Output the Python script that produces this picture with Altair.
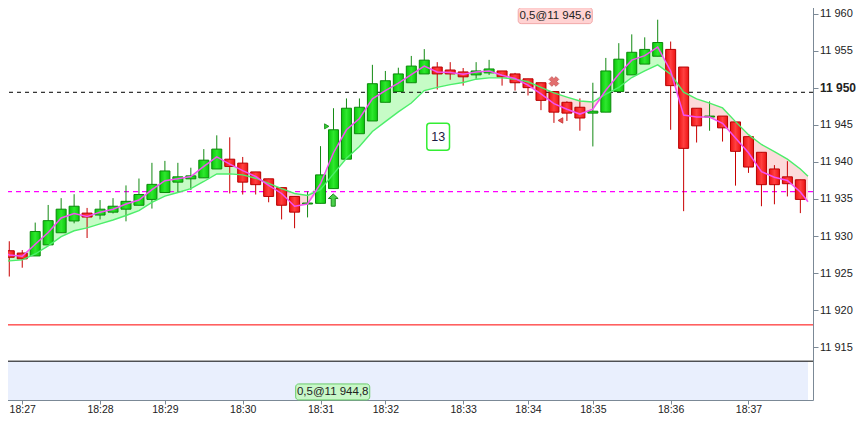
import json
import altair as alt
import pandas as pd

# ---- scale limits (price units / candle index) ----
XMIN, XMAX = -0.33, 61.59
YMIN, YMAX = 11907.86, 11961.32

# ---- candles (index 0..61) ----
opens = [11928.01, 11927.70, 11927.31, 11928.80, 11930.44, 11932.03, 11933.09, 11932.83, 11933.22, 11933.62,
         11934.15, 11934.94, 11935.87, 11937.27, 11937.72, 11937.85, 11939.05, 11940.37, 11939.84, 11938.65,
         11937.72, 11936.53, 11935.34, 11934.32, 11934.41, 11936.40, 11940.37, 11943.81, 11945.53, 11948.05,
         11949.50, 11950.69, 11951.88, 11952.81, 11952.41, 11952.15, 11951.75, 11952.02, 11952.28, 11951.88,
         11951.22, 11950.69, 11949.50, 11948.05, 11947.38, 11946.59, 11946.72, 11949.50, 11951.75, 11953.21,
         11954.27, 11955.19, 11952.81, 11947.25, 11946.06, 11946.19, 11945.40, 11943.41, 11941.30, 11939.05,
         11937.99, 11937.59]
highs = [11929.29, 11928.10, 11931.81, 11934.19, 11935.11, 11935.64, 11933.79, 11934.85, 11935.11, 11936.83,
         11937.76, 11939.88, 11940.14, 11939.88, 11939.22, 11941.73, 11943.59, 11943.32, 11940.67, 11938.65,
         11937.72, 11936.53, 11935.34, 11936.00, 11942.13, 11947.25, 11948.57, 11948.57, 11953.11, 11952.28,
         11952.72, 11954.31, 11955.23, 11953.47, 11953.47, 11952.68, 11953.47, 11953.78, 11952.28, 11952.02,
         11951.22, 11950.69, 11949.50, 11948.18, 11948.57, 11950.69, 11954.04, 11956.03, 11957.22, 11956.82,
         11959.20, 11956.25, 11952.81, 11947.25, 11948.18, 11946.19, 11945.40, 11943.41, 11941.30, 11939.57,
         11940.10, 11937.59]
lows = [11924.53, 11925.72, 11927.31, 11928.80, 11930.44, 11931.71, 11929.73, 11932.24, 11933.04, 11931.98,
        11934.15, 11933.70, 11935.87, 11935.87, 11936.21, 11937.85, 11939.05, 11935.74, 11935.60, 11935.60,
        11934.55, 11932.24, 11931.05, 11932.51, 11934.41, 11936.40, 11940.37, 11943.81, 11945.53, 11948.05,
        11949.50, 11950.69, 11951.88, 11949.77, 11951.09, 11950.30, 11951.22, 11951.75, 11950.30, 11949.63,
        11948.97, 11946.99, 11945.27, 11945.53, 11944.21, 11942.09, 11946.72, 11949.50, 11951.75, 11953.21,
        11954.27, 11944.34, 11933.35, 11942.62, 11944.21, 11942.75, 11936.80, 11938.52, 11934.02, 11934.28,
        11935.34, 11933.09]
closes = [11927.13, 11926.91, 11930.61, 11932.07, 11933.62, 11934.02, 11932.56, 11933.62, 11934.02, 11934.68,
          11935.60, 11936.97, 11938.78, 11937.99, 11938.12, 11940.24, 11941.73, 11939.39, 11937.27, 11936.93,
          11935.34, 11934.15, 11933.22, 11934.45, 11938.25, 11944.34, 11947.25, 11947.38, 11950.56, 11950.96,
          11951.88, 11952.94, 11953.74, 11951.88, 11951.88, 11951.49, 11952.28, 11952.55, 11951.49, 11950.69,
          11950.03, 11948.31, 11946.72, 11946.59, 11945.93, 11946.85, 11952.28, 11953.87, 11954.80, 11955.19,
          11956.12, 11950.30, 11941.83, 11944.87, 11946.19, 11944.60, 11941.43, 11939.31, 11936.93, 11936.93,
          11937.06, 11934.94]

# ---- moving averages (index 0..61) plus values at the plot edges ----
fast_ma = [11927.44, 11927.27, 11928.89, 11930.48, 11932.43, 11933.04, 11932.64, 11933.22, 11933.62, 11934.32,
           11934.85, 11936.27, 11937.46, 11937.72, 11938.03, 11939.39, 11940.67, 11939.71, 11938.82, 11938.03,
           11936.83, 11935.74, 11934.02, 11934.32, 11937.06, 11941.24, 11944.34, 11945.87, 11948.52, 11949.63,
           11950.64, 11951.79, 11952.94, 11952.15, 11952.06, 11951.83, 11952.15, 11952.28, 11951.70, 11951.26,
           11950.37, 11949.18, 11947.86, 11947.12, 11946.46, 11947.12, 11949.67, 11951.83, 11953.74, 11954.35,
           11955.50, 11952.28, 11946.32, 11946.06, 11946.06, 11945.21, 11943.23, 11941.24, 11938.69, 11937.93,
           11937.50, 11935.95]
slow_ma = [11926.64, 11926.78, 11927.57, 11928.67, 11929.91, 11930.71, 11931.10, 11931.63, 11932.16, 11932.77,
           11933.43, 11934.54, 11935.38, 11935.87, 11936.40, 11937.36, 11938.38, 11938.38, 11938.25, 11937.80,
           11937.10, 11936.40, 11935.74, 11935.47, 11936.27, 11938.38, 11940.50, 11942.09, 11944.11, 11945.44,
           11946.76, 11947.95, 11949.63, 11950.07, 11950.43, 11950.73, 11951.17, 11951.35, 11951.35, 11951.17,
           11950.82, 11950.07, 11949.32, 11948.75, 11948.22, 11948.09, 11949.14, 11950.07, 11951.39, 11952.28,
           11953.11, 11951.83, 11949.41, 11948.52, 11947.95, 11947.29, 11945.44, 11943.68, 11942.36, 11941.38,
           11940.37, 11939.05]
fast_edge = [11927.70, 11934.63]
slow_edge = [11926.60, 11938.07]

# ---- axis ticks ----
tick_idx = [1, 7, 12, 18, 24, 29, 35, 40, 45, 51, 57]
tick_lbl = ["18:27", "18:28", "18:29", "18:30", "18:31", "18:32", "18:33", "18:34", "18:35", "18:36", "18:37"]
y_ticks = [11915, 11920, 11925, 11930, 11935, 11940, 11945, 11950, 11955, 11960]

# ---- horizontal levels ----
level_black_dash = 11949.4
level_magenta_dash = 11936.0
level_red = 11918.0
level_black = 11913.1

# ---- annotations ----
order_idx = [42.1, 24.94]
order_price = [11959.75, 11908.95]
order_text = ["0,5@11 945,6", "0,5@11 944,8"]
count_idx, count_price, count_text = 33.07, 11943.39, "13"
sell_tri = (42.5, 11945.6)
buy_tri = (24.48, 11944.8)
cross_mark = (42.0, 11950.86)
arrow_mark = (24.98, 11934.85)

# ---------------------------------------------------------------
PLOT_W, PLOT_H = 813, 396

candles = pd.DataFrame({"idx": list(range(len(opens))), "open": opens, "high": highs,
                        "low": lows, "close": closes})
ma = pd.DataFrame({"idx": [XMIN] + list(range(len(fast_ma))) + [XMAX],
                   "fast": [fast_edge[0]] + fast_ma + [fast_edge[1]],
                   "slow": [slow_edge[0]] + slow_ma + [slow_edge[1]]})

PX_X = PLOT_W / (XMAX - XMIN)     # pixels per index unit
PX_Y = PLOT_H / (YMAX - YMIN)     # pixels per price unit

xs = alt.Scale(domain=[XMIN, XMAX], nice=False, zero=False)
ys = alt.Scale(domain=[YMIN, YMAX], nice=False, zero=False)
AX = "#7b8996"
xaxis = alt.Axis(values=tick_idx, title=None, grid=False, domainColor=AX, tickColor=AX, tickSize=4,
                 labelColor="#222222", labelFontSize=10.5, labelPadding=0,
                 labelExpr=f"{json.dumps(tick_lbl)}[indexof({json.dumps(tick_idx)}, datum.value)]")
yaxis = alt.Axis(values=y_ticks, orient="right", title=None, grid=False, domainColor=AX, tickColor=AX,
                 tickSize=5, labelColor="#222222", labelPadding=1.5,
                 labelFontSize=alt.expr("datum.value == 11950 ? 12 : 11"),
                 labelFontWeight=alt.expr("datum.value == 11950 ? 'bold' : 'normal'"),
                 labelExpr="replace(format(datum.value, ','), ',', ' ')")


def X(field):
    return alt.X(field, type="quantitative", scale=xs, axis=xaxis)


def Y(field):
    return alt.Y(field, type="quantitative", scale=ys, axis=yaxis)


band_df = pd.DataFrame({"x0": [XMIN], "x1": [XMAX], "y0": [YMIN], "y1": [level_black]})
band = alt.Chart(band_df).mark_rect(color="#e9effd").encode(
    x=X("x0"), x2="x1", y=Y("y0"), y2="y1")

base_ma = alt.Chart(ma)
area_up = base_ma.transform_calculate(top="max(datum.fast, datum.slow)").mark_area(
    color="#c6fcc6").encode(x=X("idx"), y=Y("top"), y2="slow")
area_dn = base_ma.transform_calculate(bot="min(datum.fast, datum.slow)").mark_area(
    color="#fcdada").encode(x=X("idx"), y=Y("slow"), y2="bot")

lv = pd.DataFrame({"lv": [level_black_dash, level_magenta_dash, level_red, level_black],
                   "k": ["bd", "md", "r", "b"]})
rule_bd = alt.Chart(lv).transform_filter("datum.k == 'bd'").mark_rule(
    color="#000000", strokeDash=[4, 4], strokeWidth=1).encode(y=Y("lv"))
rule_md = alt.Chart(lv).transform_filter("datum.k == 'md'").mark_rule(
    color="#ff00ff", strokeDash=[5, 4], strokeWidth=1.3).encode(y=Y("lv"))
rule_r = alt.Chart(lv).transform_filter("datum.k == 'r'").mark_rule(
    color="#ff0000", strokeWidth=1).encode(y=Y("lv"))
rule_b = alt.Chart(lv).transform_filter("datum.k == 'b'").mark_rule(
    color="#000000", strokeWidth=1).encode(y=Y("lv"))

cb = alt.Chart(candles)
up = "datum.close >= datum.open"
dn = "datum.close < datum.open"
wick_up = cb.transform_filter(up).mark_rule(color="#138a13", strokeWidth=1, clip=True).encode(
    x=X("idx"), y=Y("low"), y2="high")
wick_dn = cb.transform_filter(dn).mark_rule(color="#c80000", strokeWidth=1, clip=True).encode(
    x=X("idx"), y=Y("low"), y2="high")
g_grad = alt.Gradient(gradient="linear", x1=0, x2=1, y1=0, y2=0,
                      stops=[alt.GradientStop(offset=0, color="#0cc80c"),
                             alt.GradientStop(offset=0.5, color="#2ee82e"),
                             alt.GradientStop(offset=1, color="#0cc80c")])
r_grad = alt.Gradient(gradient="linear", x1=0, x2=1, y1=0, y2=0,
                      stops=[alt.GradientStop(offset=0, color="#ee1414"),
                             alt.GradientStop(offset=0.5, color="#ff4040"),
                             alt.GradientStop(offset=1, color="#ee1414")])
body_up = cb.transform_filter(up).mark_bar(size=10, color=g_grad, stroke="#0b8a0b", strokeWidth=1,
                                           clip=True).encode(x=X("idx"), y=Y("open"), y2="close")
body_dn = cb.transform_filter(dn).mark_bar(size=10, color=r_grad, stroke="#b80000", strokeWidth=1,
                                           clip=True).encode(x=X("idx"), y=Y("open"), y2="close")

line_slow = base_ma.mark_line(color="#4cee6a", strokeWidth=1.4).encode(x=X("idx"), y=Y("slow"))
line_fast = base_ma.mark_line(color="#f450f4", strokeWidth=1.5).encode(x=X("idx"), y=Y("fast"))

orders = pd.DataFrame({"idx": order_idx, "price": order_price, "text": order_text,
                       "fill": ["#ffd2d2", "#c8f7c8"], "stroke": ["#f2a8a8", "#6ccc6c"]})
hw, hh = 37.5 / PX_X, 8.0 / PX_Y
order_box = alt.Chart(orders).transform_calculate(
    x0=f"datum.idx - {hw}", x1=f"datum.idx + {hw}",
    y0=f"datum.price - {hh}", y1=f"datum.price + {hh}").mark_rect(cornerRadius=3, strokeWidth=1).encode(
    x=X("x0:Q"), x2="x1:Q", y=Y("y0:Q"), y2="y1:Q",
    fill=alt.Fill("fill:N", scale=None), stroke=alt.Stroke("stroke:N", scale=None))
order_txt = alt.Chart(orders).mark_text(fontSize=11.5, color="#222222", font="Liberation Sans").encode(
    x=X("idx"), y=Y("price"), text="text:N")

cnt = pd.DataFrame({"idx": [count_idx], "price": [count_price], "text": [count_text]})
cw, ch = 11.5 / PX_X, 13.5 / PX_Y
count_box = alt.Chart(cnt).transform_calculate(
    x0=f"datum.idx - {cw}", x1=f"datum.idx + {cw}",
    y0=f"datum.price - {ch}", y1=f"datum.price + {ch}").mark_rect(
    cornerRadius=3, fill="#ffffff", stroke="#33ee33", strokeWidth=1.5).encode(
    x=X("x0:Q"), x2="x1:Q", y=Y("y0:Q"), y2="y1:Q")
count_txt = alt.Chart(cnt).mark_text(fontSize=12.5, color="#1a1a40", font="Liberation Sans").encode(
    x=X("idx"), y=Y("price"), text="text:N")

mk = pd.DataFrame({"idx": [sell_tri[0], buy_tri[0], cross_mark[0], arrow_mark[0]],
                   "price": [sell_tri[1], buy_tri[1], cross_mark[1], arrow_mark[1]],
                   "k": ["sell", "buy", "cross", "arrow"]})
m_sell = alt.Chart(mk).transform_filter("datum.k == 'sell'").mark_point(
    shape="triangle-left", filled=True, size=30, fill="#e85050", stroke="#c03030", strokeWidth=0.8,
    opacity=1).encode(x=X("idx"), y=Y("price"))
m_buy = alt.Chart(mk).transform_filter("datum.k == 'buy'").mark_point(
    shape="triangle-right", filled=True, size=26, fill="#33cc33", stroke="#118811", strokeWidth=0.8,
    opacity=1).encode(x=X("idx"), y=Y("price"))
m_cross = alt.Chart(mk).transform_filter("datum.k == 'cross'").mark_point(
    shape="cross", angle=45, filled=True, size=95, fill="#e06060", stroke="#c04848", strokeWidth=0.8,
    opacity=0.9).encode(x=X("idx"), y=Y("price"))
arrow_path = "M0,-1 L0.8,-0.25 L0.33,-0.25 L0.33,1 L-0.33,1 L-0.33,-0.25 L-0.8,-0.25 Z"
m_arrow = alt.Chart(mk).transform_filter("datum.k == 'arrow'").mark_point(
    shape=arrow_path, filled=True, size=150, fill="#4cd04c", stroke="#178a17", strokeWidth=1,
    opacity=1).encode(x=X("idx"), y=Y("price"))

chart = alt.layer(
    band, area_up, area_dn, rule_bd, rule_md, rule_r, rule_b,
    wick_up, wick_dn, body_up, body_dn, line_slow, line_fast,
    order_box, order_txt, count_box, count_txt, m_sell, m_buy, m_cross, m_arrow
).properties(
    width=PLOT_W, height=PLOT_H,
    autosize=alt.AutoSizeParams(type="none"),
    padding={"left": -8, "top": -4, "right": 43, "bottom": 16}
).configure_view(stroke=None).configure_axis(labelFont="Liberation Sans")

chart.save("out.html", embed_options={"renderer": "svg", "actions": False})
